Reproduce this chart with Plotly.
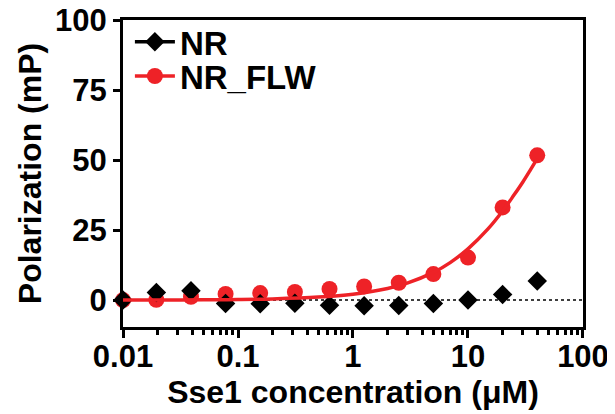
import plotly.graph_objects as go

# Data
conc = [0.01, 0.0195, 0.039, 0.078, 0.156, 0.3125, 0.625, 1.25, 2.5, 5, 10, 20, 40]
nr = [0.0, 2.7, 3.3, -1.2, -1.3, -1.1, -1.8, -2.0, -1.9, -1.2, 0.0, 2.0, 6.8]
nr_flw = [0.0, 0.1, 1.2, 2.2, 2.5, 2.9, 4.0, 4.9, 6.2, 9.3, 15.2, 33.1, 51.7]

# Fitted curve for NR_FLW
fit_x = [0.01, 0.02, 0.05, 0.1, 0.2, 0.5, 1, 2, 3, 5, 7, 10, 15, 20, 25, 30, 35, 40]
fit_y = [0.02, 0.04, 0.11, 0.21, 0.43, 1.07, 2.11, 4.15, 6.13, 9.88, 13.4, 18.3, 25.5, 31.8, 37.4, 42.2, 46.6, 50.5]

x_ticks = [0.01, 0.1, 1, 10, 100]
x_ticklabels = ["0.01", "0.1", "1", "10", "100"]
y_ticks = [0, 25, 50, 75, 100]

RED = "#EE2227"
FONT = "Liberation Sans"

minor_vals = [m * d for d in [0.01, 0.1, 1, 10] for m in range(2, 10)]

fig = go.Figure()

fig.add_trace(go.Scatter(x=conc, y=nr_flw, mode="markers", showlegend=False,
                         marker=dict(symbol="circle", size=16, color=RED),
                         cliponaxis=False))
fig.add_trace(go.Scatter(x=conc, y=nr, mode="markers", showlegend=False,
                         marker=dict(symbol="diamond", size=15, color="black"),
                         cliponaxis=False))
fig.add_trace(go.Scatter(x=fit_x, y=fit_y, mode="lines", showlegend=False,
                         line=dict(color=RED, width=3.5, shape="spline"),
                         cliponaxis=False))

# legend entries
fig.add_trace(go.Scatter(x=[None], y=[None], mode="lines+markers", name="NR",
                         legend="legend",
                         marker=dict(symbol="diamond", size=15, color="black"),
                         line=dict(color="black", width=3.5)))
fig.add_trace(go.Scatter(x=[None], y=[None], mode="lines+markers", name="NR_FLW",
                         legend="legend2",
                         marker=dict(symbol="circle", size=16, color=RED),
                         line=dict(color=RED, width=3.5)))

fig.add_shape(type="line", xref="x", yref="y", x0=0.01, x1=100, y0=0, y1=0,
              line=dict(color="black", width=1.5, dash="dot"), layer="below")

legend_common = dict(x=0.015, xanchor="left", yanchor="middle",
                     bgcolor="rgba(0,0,0,0)", font=dict(size=33, weight="bold"),
                     itemwidth=40, tracegroupgap=0)

fig.update_layout(
    width=607, height=406,
    margin=dict(l=115, r=32, t=12, b=87, autoexpand=False),
    paper_bgcolor="white", plot_bgcolor="white",
    font=dict(family=FONT, color="black", size=31, weight="bold"),
    showlegend=True,
    legend=dict(y=0.929, **legend_common),
    legend2=dict(y=0.8175, **legend_common),
    xaxis=dict(type="log", range=[-2, 2.0001], automargin=False,
               tickmode="array", tickvals=x_ticks, ticktext=x_ticklabels,
               ticks="outside", ticklen=8, tickwidth=3, tickcolor="black",
               ticklabelstandoff=-8, ticklabeloverflow="allow",
               minor=dict(tickmode="array", tickvals=minor_vals, ticks="outside",
                          ticklen=5, tickwidth=2.5, tickcolor="black", showgrid=False),
               showline=True, linewidth=3, linecolor="black", mirror=True,
               showgrid=False, zeroline=False,
               tickfont=dict(size=31, weight="bold"),
               title=dict(text="Sse1 concentration (\u03bcM)", standoff=8,
                          font=dict(size=32, weight="bold"))),
    yaxis=dict(range=[-9.6, 100.02], automargin=False,
               tickmode="array", tickvals=y_ticks, ticklabeloverflow="allow",
               ticks="outside", ticklen=7, tickwidth=3, tickcolor="black",
               showline=True, linewidth=3, linecolor="black", mirror=True,
               showgrid=False, zeroline=False,
               tickfont=dict(size=31, weight="bold"),
               title=dict(text="Polarization (mP)", standoff=4,
                          font=dict(size=32, weight="bold"))),
)

fig.write_html("out.html")
